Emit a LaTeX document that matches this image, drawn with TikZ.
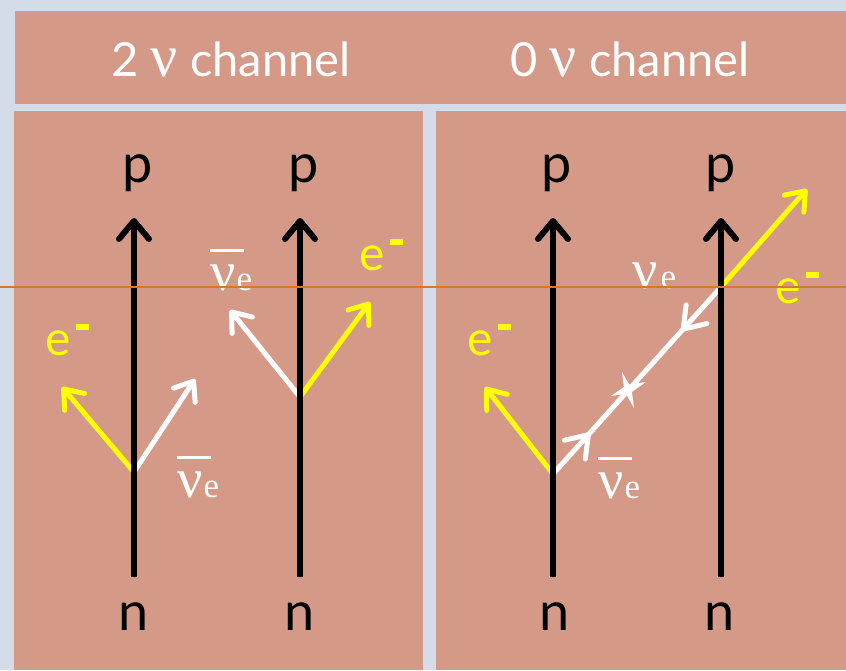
\documentclass[tikz,border=0pt]{standalone}
\usepackage{fontspec}
\setmainfont{Lato}
\newfontfamily\nufam{Liberation Serif}
\usetikzlibrary{arrows.meta,decorations.markings}
\definecolor{bgc}{HTML}{D5DCE9}
\definecolor{salmon}{HTML}{D59987}
\definecolor{artline}{HTML}{D0783A}
\definecolor{eyel}{HTML}{FFFF00}
\newcommand\mynubar{\rlap{\rule[38pt]{34pt}{3pt}}ν}
\newcommand\myebar{\kern5pt\rule[25pt]{13pt}{6pt}}
\begin{document}
\begin{tikzpicture}[x=1pt,y=-1pt,
  panel/.style={fill=salmon,draw=none},
  titlelab/.style={inner sep=0pt,text=white,font=\fontsize{47}{56}\selectfont},
  pnlab/.style={inner sep=0pt,text=black,font=\fontsize{54}{64}\selectfont},
  elab/.style={inner sep=0pt,text=eyel,font=\fontsize{48}{58}\selectfont},
  nulab/.style={inner sep=0pt,text=white,font=\nufam\fontsize{56}{60}\selectfont},
  barrow/.style={draw=black,line width=6pt,-{Straight Barb[round,length=18pt,width=30pt]}},
  yarrow/.style={draw=eyel,line width=5pt,-{Straight Barb[round,length=17pt,width=26pt]}},
  warrow/.style={draw=white,line width=5pt,-{Straight Barb[round,length=17pt,width=26pt]}}
]
\useasboundingbox (0,0) rectangle (846,670);
\fill[bgc] (0,0) rectangle (846,670);
\fill[panel] (15,11) rectangle (846,104);
\fill[panel] (14,111) rectangle (423,670);
\fill[panel] (436,111) rectangle (846,670);

% titles
\node[titlelab,anchor=base] (t1) at (231,76) {2 {\nufam\fontsize{60}{60}\selectfont ν} channel};
\node[titlelab,anchor=base] (t2) at (630,76) {0 {\nufam\fontsize{60}{60}\selectfont ν} channel};

% p and n labels
\node[pnlab,anchor=base] (p1) at (138,182) {p};
\node[pnlab,anchor=base] (p2) at (304,182) {p};
\node[pnlab,anchor=base] (p3) at (557,182) {p};
\node[pnlab,anchor=base] (p4) at (721,182) {p};
\node[pnlab,anchor=base] (n1) at (134,630) {n};
\node[pnlab,anchor=base] (n2) at (300,630) {n};
\node[pnlab,anchor=base] (n3) at (555,630) {n};
\node[pnlab,anchor=base] (n4) at (720,630) {n};

% arrow coordinates
\coordinate (b1) at (134,577); \coordinate (a1) at (134,218);
\coordinate (b2) at (300,577); \coordinate (a2) at (300,218);
\coordinate (b3) at (553,577); \coordinate (a3) at (553,218);
\coordinate (b4) at (721,577); \coordinate (a4) at (721,218);
\coordinate (v1) at (134,472);
\coordinate (v2) at (300,397);
\coordinate (vA) at (553,474);
\coordinate (vB) at (721,287);
\coordinate (y1) at (62,387);
\coordinate (w1) at (195,379);
\coordinate (w2) at (230,310);
\coordinate (y2) at (370,302);
\coordinate (y3) at (485,387);
\coordinate (y4) at (807,189);

% e- labels
\node[elab,anchor=base west] (e1) at (45,355) {e\myebar};
\node[elab,anchor=base west] (e2) at (359,270) {e\myebar};
\node[elab,anchor=base west] (e3) at (467,355) {e\myebar};
\node[elab,anchor=base west] (e4) at (775,303) {e\myebar};

% nu labels
\node[nulab,anchor=base west] (nb1) at (177,497) {\mynubar\kern1pt{\nufam\fontsize{35}{40}\selectfont e}};
\node[nulab,anchor=base west] (nb2) at (210,290) {\mynubar\kern1pt{\nufam\fontsize{35}{40}\selectfont e}};
\node[nulab,anchor=base west] (nb3) at (598,498) {\mynubar\kern1pt{\nufam\fontsize{35}{40}\selectfont e}};
\node[nulab,anchor=base west] (nu4) at (632,288) {ν\kern3pt{\nufam\fontsize{35}{40}\selectfont e}};

% coloured arrows
\draw[yarrow] (v1) -- (y1);
\draw[warrow] (v1) -- (w1);
\draw[warrow] (v2) -- (w2);
\draw[yarrow] (v2) -- (y2);
\draw[yarrow] (vA) -- (y3);
\draw[yarrow] (vB) -- (y4);
\draw[white,line width=5pt,
  decoration={markings,
    mark=at position 0.22 with {\arrow{Straight Barb[round,length=20pt,width=28pt]}},
    mark=at position 0.765 with {\arrowreversed{Straight Barb[round,length=20pt,width=28pt]}}},
  postaction={decorate}] (vA) -- (vB);

% Majorana cross
\fill[white] (611,396) -- (629.8,393.3) -- (646,382) -- (627.2,384.7) -- cycle;
\fill[white] (622,372) -- (631.6,388.9) -- (634,408) -- (624.4,391.1) -- cycle;

% black arrows
\draw[barrow] (b1) -- (a1);
\draw[barrow] (b2) -- (a2);
\draw[barrow] (b3) -- (a3);
\draw[barrow] (b4) -- (a4);

% thin horizontal line
\coordinate (hl) at (0,287); \coordinate (hr) at (846,287);
\draw[artline,line width=1.2pt] (hl) -- (hr);
\end{tikzpicture}
\end{document}
